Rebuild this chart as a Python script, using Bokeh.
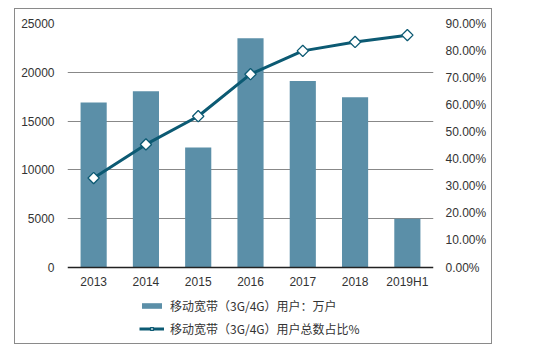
from bokeh.plotting import figure
from bokeh.models import (Range1d, LinearAxis, FixedTicker, NumeralTickFormatter,
                          Legend, LegendItem, FactorRange)
from bokeh.embed import file_html
from bokeh.resources import INLINE
import numpy as np

years = ["2013", "2014", "2015", "2016", "2017", "2018", "2019H1"]
users = [16900, 18050, 12300, 23500, 19100, 17450, 5000]
share = [0.330, 0.454, 0.558, 0.713, 0.799, 0.832, 0.857]
bar_label = "移动宽带（3G/4G）用户：万户"
line_label = "移动宽带（3G/4G）用户总数占比%"

BAR = "#5B8FA8"
LINE = "#0C5A73"
TXT = "#333333"
FONT = "Liberation Sans"

# frame extends below zero to hold the legend; 0..25000 occupies 244 of 316 px
FRAME_H = 316
SPAN_PX = 244
left_start = 25000 - FRAME_H / SPAN_PX * 25000
right_start = 0.9 - FRAME_H / SPAN_PX * 0.9

p = figure(width=478, height=336, x_range=FactorRange(*years),
           y_range=Range1d(left_start, 25000), output_backend="svg", toolbar_location=None,
           x_axis_location="above",
           min_border_left=52, min_border_right=60, min_border_top=14, min_border_bottom=6)
p.margin = (8, 0, 0, 14)
p.styles = {"border": "1px solid #8a8a8a"}
p.outline_line_color = None
p.background_fill_color = "white"
p.border_fill_color = "white"

p.extra_y_ranges = {"pct": Range1d(right_start, 0.9)}

bars = p.vbar(x=years, top=users, width=0.5, color=BAR, line_color=None)
ln = p.line(x=years, y=share, y_range_name="pct", line_color=LINE, line_width=3)
mk = p.scatter(x=years, y=share, y_range_name="pct", marker="square", angle=np.pi / 4,
               size=8, fill_color="white", line_color=LINE, line_width=1.3)

# left axis
ax = p.yaxis[0]
ax.ticker = FixedTicker(ticks=[0, 5000, 10000, 15000, 20000, 25000])
ax.axis_line_color = None
ax.major_tick_line_color = None
ax.minor_tick_line_color = None
ax.major_label_text_font = FONT
ax.major_label_text_font_size = "12px"
ax.major_label_text_color = TXT
ax.major_label_standoff = 7

# right axis
ra = LinearAxis(y_range_name="pct", ticker=FixedTicker(ticks=[i / 10 for i in range(10)]),
                formatter=NumeralTickFormatter(format="0.00%"))
ra.axis_line_color = None
ra.major_tick_line_color = None
ra.minor_tick_line_color = None
ra.major_label_text_font = FONT
ra.major_label_text_font_size = "12px"
ra.major_label_text_color = TXT
ra.major_label_standoff = 6
p.add_layout(ra, "right")

# x axis, drawn at y = 0 inside the frame
xa = p.xaxis[0]
xa.fixed_location = 0
xa.axis_line_color = "#222222"
xa.axis_line_width = 1.5
xa.major_tick_line_color = None
xa.minor_tick_line_color = None
xa.major_label_text_font = FONT
xa.major_label_text_font_size = "12px"
xa.major_label_text_color = TXT
xa.major_label_standoff = -27

p.xgrid.grid_line_color = None
p.ygrid.grid_line_color = "#888888"
p.ygrid.ticker = FixedTicker(ticks=[5000, 10000, 15000, 20000, 25000])

legend = Legend(items=[LegendItem(label=bar_label, renderers=[bars]),
                       LegendItem(label=line_label, renderers=[ln, mk])],
                location=(72, 2), orientation="vertical",
                border_line_color=None, background_fill_alpha=0,
                label_text_font="Noto Sans CJK SC", label_text_font_size="12px",
                label_text_color=TXT, glyph_width=25, glyph_height=7,
                label_standoff=6, spacing=6, padding=2, margin=0)
p.add_layout(legend, "center")

open("out.html", "w").write(file_html(p, INLINE))
